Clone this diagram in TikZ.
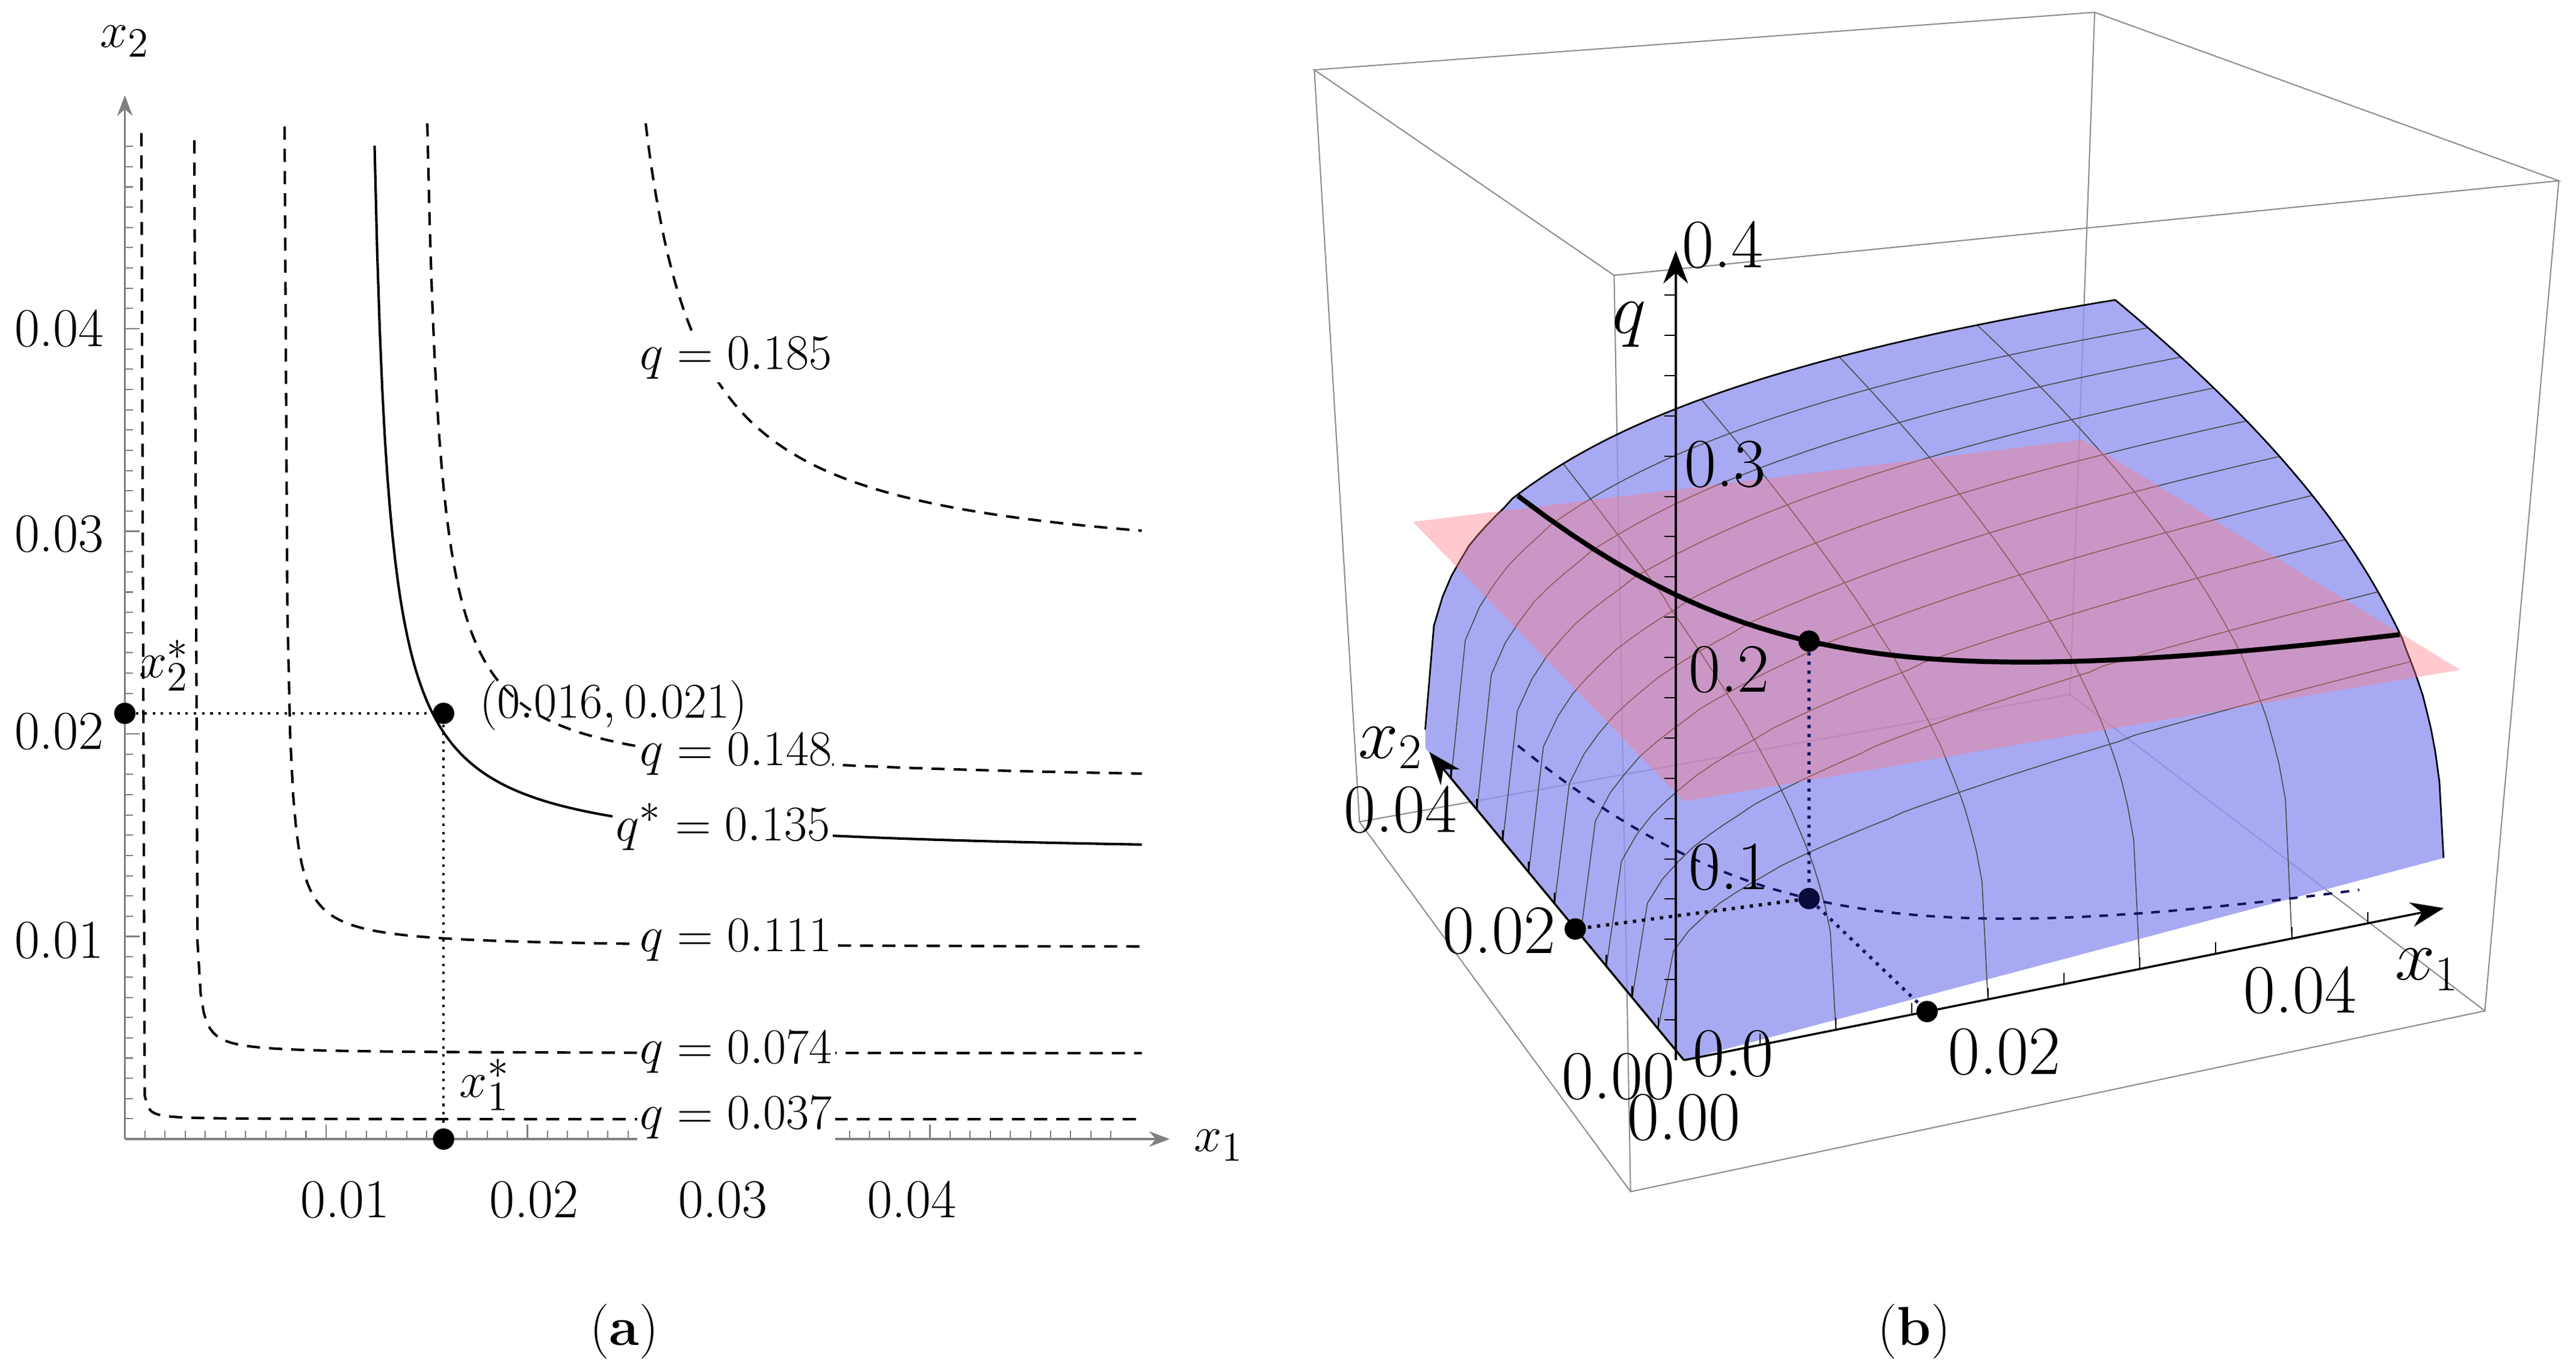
\documentclass[tikz,border=0pt]{standalone}
\usepackage{fontspec}
\usetikzlibrary{arrows.meta}
\begin{document}
\begin{tikzpicture}[x=0.2mm,y=-0.2mm,
  lev/.style={line width=0.3mm,dash pattern=on 1.6mm off 1.1mm},
  lab/.style={font=\fontsize{19}{22}\selectfont,inner sep=1pt},
  wlab/.style={lab,fill=white},
  rlab/.style={font=\fontsize{24}{26}\selectfont,inner sep=1pt},
  ax/.style={draw=black!50,line width=0.25mm,-{Stealth[length=2.5mm]}},
  dot/.style={circle,fill=black,inner sep=0pt,minimum size=2.6mm},
  box/.style={draw=black!45,line width=0.15mm},
  declare function={PX(\u,\v)=475+925*\u-315*\v-85*\u*\v;
    PY(\u,\v,\q)=1290-185*\u-380*\v+165*\u*\v-\q*(2450-175*\u-175*\v);
    QQ(\u,\v)=0.25*(\u*\v)^0.307;}]
\useasboundingbox (0,0) rectangle (1568,834.4);
% ---------- panel (a)
\coordinate (o) at (76,693);
\coordinate (xe) at (712,693);
\coordinate (ye) at (76,58);
\draw[ax] (o) -- (xe);
\draw[ax] (o) -- (ye);
\foreach \i in {1,...,49}{\draw[black!50,line width=0.15mm] ({76+12.25*\i},693) -- ++(0,-5);
  \draw[black!50,line width=0.15mm] (76,{693-12.325*\i}) -- ++(5,0);}
\foreach \i in {1,...,4}{\draw[black!50,line width=0.2mm] ({76+122.5*\i},693) -- ++(0,-9);
  \draw[black!50,line width=0.2mm] (76,{693-123.25*\i}) -- ++(9,0);}
\node[lab] (xl1) at (210,730) {0.01};
\node[lab] (xl2) at (325,730) {0.02};
\node[lab] (xl3) at (440,730) {0.03};
\node[lab] (xl4) at (555,730) {0.04};
\node[lab] (yl4) at (36,200) {0.04};
\node[lab] (yl3) at (36,325) {0.03};
\node[lab] (yl2) at (36,445) {0.02};
\node[lab] (yl1) at (36,572) {0.01};
\node[lab] (x1n) at (742,697) {$x_1$};
\node[lab] (x2n) at (76,25) {$x_2$};
\draw[lev] plot[domain=86.05:695,samples=300] (\x,{681-30/(\x-86)});
\draw[lev] plot[domain=118.27:695,samples=300] (\x,{641-150/(\x-118)});
\draw[lev] plot[domain=173.2:695,samples=300] (\x,{577-600/(\x-172)});
\draw[lev] plot[domain=260.1:695,samples=300] (\x,{478-3264/(\x-252)});
\draw[lev] plot[domain=393:695,samples=300] (\x,{350-9075/(\x-360)});
\draw[line width=0.3mm] plot[domain=228:695,samples=300] (\x,{522-3900/(\x-219)});
\node[dot] (pa) at (270,434) {};
\node[dot] (pb) at (76,434) {};
\node[dot] (pc) at (270,693) {};
\draw[dotted,line width=0.3mm] (pb) -- (pa) -- (pc);
\node[wlab] (q185) at (448,218) {$q=0.185$};
\node[lab,anchor=west] (ptl) at (290,429) {$(0.016,0.021)$};
\node[wlab,inner sep=0pt] (q148) at (448,459) {$q=0.148$};
\node[wlab] (q135) at (440,503) {$q^{*}=0.135$};
\node[wlab] (q111) at (448,572) {$q=0.111$};
\node[wlab] (q074) at (448,640) {$q=0.074$};
\node[wlab] (q037) at (448,680) {$q=0.037$};
\node[lab] (x2s) at (100,405) {$x_2^{*}$};
\node[lab] (x1s) at (295,660) {$x_1^{*}$};
\node[lab] (ca) at (380,810) {(\textbf{a})};
\node[lab] (cb) at (1165,810) {(\textbf{b})};
% ---------- panel (b)
\begin{scope}[shift={(787.5,0)},scale=0.5]
\coordinate (A) at (25,85); \coordinate (B) at (975,15);
\coordinate (C) at (1540,220); \coordinate (D) at (390,335);
\coordinate (A2) at (80,1000); \coordinate (B2) at (945,845);
\coordinate (C2) at (1450,1230); \coordinate (D2) at (410,1450);
\draw[box] (A)--(B)--(C)--(D)--cycle (A)--(A2) (B)--(B2) (C)--(C2) (D)--(D2)
  (A2)--(B2)--(C2)--(D2)--cycle;
% surface
\fill[fill={rgb,255:red,145;green,148;blue,240},fill opacity=0.8]
  plot[domain=0.00001:1,samples=80] ({PX(\x,1)},{PY(\x,1,QQ(\x,1))})
  -- plot[domain=1:0.00001,samples=80] ({PX(1,\x)},{PY(1,\x,QQ(1,\x))})
  -- ({PX(0,0)},{PY(0,0,0)}) -- ({PX(0,1)},{PY(0,1,0)}) -- cycle;
\foreach \k in {0.2,0.4,0.6,0.8}{
  \draw[black!70,line width=0.12mm] plot[domain=0.00001:1,samples=50] ({PX(\k,\x)},{PY(\k,\x,QQ(\k,\x))});}
\foreach \k in {0.1,0.2,...,0.95}{
  \draw[black!70,line width=0.12mm] plot[domain=0.00001:1,samples=50] ({PX(\x,\k)},{PY(\x,\k,QQ(\x,\k))});}
\draw[black,line width=0.2mm] plot[domain=0.00001:1,samples=80] ({PX(\x,1)},{PY(\x,1,QQ(\x,1))})
  -- plot[domain=1:0.00001,samples=80] ({PX(1,\x)},{PY(1,\x,QQ(1,\x))});
% plane q*
\coordinate (P1) at (145,635); \coordinate (P2) at (960,535);
\coordinate (P3) at (1420,815); \coordinate (P4) at (475,975);
\fill[fill={rgb,255:red,255;green,120;blue,130},fill opacity=0.4] (P1)--(P2)--(P3)--(P4)--cycle;
% level curves
\draw[line width=0.6mm] plot[domain=0.1344:1,samples=80] ({PX(\x,0.1344/\x)},{PY(\x,0.1344/\x,0.135)});
\draw[dashed,line width=0.3mm,draw={rgb,255:red,20;green,20;blue,90}] plot[domain=0.1344:0.95,samples=80] ({PX(\x,0.1344/\x)},{PY(\x,0.1344/\x,0)});
% axes
\coordinate (O) at ({PX(0,0)},{PY(0,0,0)});
\coordinate (X1) at (1400,1105);
\coordinate (X2) at (165,915);
\coordinate (QE) at (465,305);
\coordinate (Q0) at (465,1290);
\draw[line width=0.25mm,-{Stealth[length=4mm]}] (O) -- (X1);
\draw[line width=0.25mm,-{Stealth[length=4mm]}] (O) -- (X2);
\draw[line width=0.25mm,-{Stealth[length=4mm]}] (Q0) -- (QE);
\foreach \i in {1,...,19}{\draw[line width=0.15mm] (465,{1290-49*\i}) -- ++(-14,0);}
\foreach \i in {1,...,9}{\draw[line width=0.15mm] ({PX(\i/10,0)},{PY(\i/10,0,0)}) -- ++(0,-14);
  \draw[line width=0.15mm] ({PX(0,\i/10)},{PY(0,\i/10,0)}) -- ++(0,-14);}
% points
\node[dot] (S) at ({PX(0.32,0.42)},{PY(0.32,0.42,0.135)}) {};
\node[dot,fill={rgb,255:red,10;green,10;blue,60}] (Bp) at ({PX(0.32,0.42)},{PY(0.32,0.42,0)}) {};
\node[dot] (X1p) at ({PX(0.32,0)},{PY(0.32,0,0)}) {};
\node[dot] (X2p) at ({PX(0,0.42)},{PY(0,0.42,0)}) {};
\draw[dotted,line width=0.4mm,draw={rgb,255:red,20;green,20;blue,90}] (S) -- (Bp) -- (X1p);
\draw[dotted,line width=0.4mm] (Bp) -- (X2p);
% labels
\node[rlab] (l00) at (535,1282) {0.0};
\node[rlab] (l01) at (530,1055) {0.1};
\node[rlab] (l02) at (530,815) {0.2};
\node[rlab] (l03) at (525,565) {0.3};
\node[rlab] (l04) at (522,298) {0.4};
\node[rlab] (lq) at (408,395) {$q$};
\node[rlab] (lx102) at (865,1280) {0.02};
\node[rlab] (lx104) at (1225,1205) {0.04};
\node[rlab] (lx1) at (1380,1180) {$x_1$};
\node[rlab] (lx202) at (250,1133) {0.02};
\node[rlab] (lx204) at (130,985) {0.04};
\node[rlab] (lx2) at (118,910) {$x_2$};
\node[rlab] (lz1) at (395,1310) {0.00};
\node[rlab] (lz2) at (475,1360) {0.00};
\end{scope}
\end{tikzpicture}
\end{document}
